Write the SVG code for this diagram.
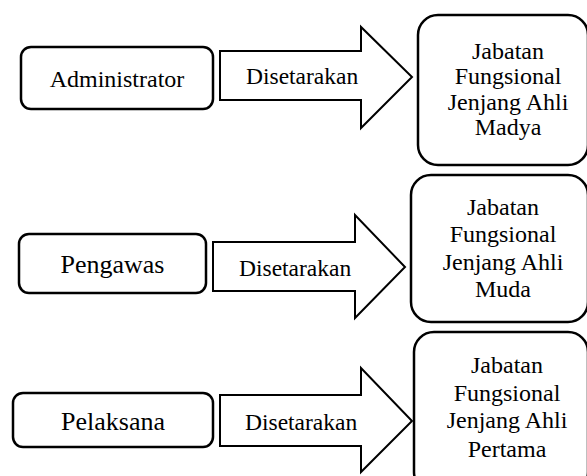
<svg xmlns="http://www.w3.org/2000/svg" width="587" height="476" viewBox="0 0 587 476" font-family="Liberation Serif, serif">
<style>
.box{fill:#fff;stroke:#000;stroke-width:2.5}
.arr{fill:#fff;stroke:#000;stroke-width:2;stroke-linejoin:miter}
</style>
<rect width="587" height="476" fill="#fff"/>
<g id="connectors">
  <g id="arrow1">
    <polygon class="arr" points="220,51 361,51 361,27 412,77 361,128 361,100 220,100"/>
    <text x="246" y="84" style="font-family:'Liberation Serif',serif;font-size:23.5px">Disetarakan</text>
  </g>
  <g id="arrow2">
    <polygon class="arr" points="213,242 355,242 355,215 405,267 355,318 355,291 213,291"/>
    <text x="239" y="276" style="font-family:'Liberation Serif',serif;font-size:23.5px">Disetarakan</text>
  </g>
  <g id="arrow3">
    <polygon class="arr" points="220,395 361,395 361,368 412,421 361,472 361,446 220,446"/>
    <text x="245" y="430" style="font-family:'Liberation Serif',serif;font-size:23.5px">Disetarakan</text>
  </g>
</g>
<g id="administrator">
  <rect class="box" x="21" y="47" width="192" height="62" rx="10"/>
  <text text-anchor="middle" x="117" y="87" style="font-family:'Liberation Serif',serif;font-size:24px">Administrator</text>
</g>
<g id="pengawas">
  <rect class="box" x="19" y="234" width="187" height="59" rx="10"/>
  <text text-anchor="middle" x="112.5" y="273" style="font-family:'Liberation Serif',serif;font-size:26px">Pengawas</text>
</g>
<g id="pelaksana">
  <rect class="box" x="13" y="393" width="200" height="54" rx="10"/>
  <text text-anchor="middle" x="113" y="430" style="font-family:'Liberation Serif',serif;font-size:26px">Pelaksana</text>
</g>
<g id="madya" text-anchor="middle">
  <rect class="box" x="418" y="15" width="170" height="150" rx="20"/>
  <text x="508" y="59" style="font-family:'Liberation Serif',serif;font-size:24px">Jabatan</text>
  <text x="508" y="84" style="font-family:'Liberation Serif',serif;font-size:24px">Fungsional</text>
  <text x="508" y="110" style="font-family:'Liberation Serif',serif;font-size:24px">Jenjang Ahli</text>
  <text x="508" y="135" style="font-family:'Liberation Serif',serif;font-size:24px">Madya</text>
</g>
<g id="muda" text-anchor="middle">
  <rect class="box" x="411" y="175" width="177" height="147" rx="20"/>
  <text x="503" y="215" style="font-family:'Liberation Serif',serif;font-size:24px">Jabatan</text>
  <text x="503" y="242" style="font-family:'Liberation Serif',serif;font-size:24px">Fungsional</text>
  <text x="503" y="270" style="font-family:'Liberation Serif',serif;font-size:24px">Jenjang Ahli</text>
  <text x="503" y="297" style="font-family:'Liberation Serif',serif;font-size:24px">Muda</text>
</g>
<g id="pertama" text-anchor="middle">
  <rect class="box" x="414" y="332" width="174" height="160" rx="20"/>
  <text x="507" y="373" style="font-family:'Liberation Serif',serif;font-size:24px">Jabatan</text>
  <text x="507" y="401" style="font-family:'Liberation Serif',serif;font-size:24px">Fungsional</text>
  <text x="507" y="428" style="font-family:'Liberation Serif',serif;font-size:24px">Jenjang Ahli</text>
  <text x="507" y="457" style="font-family:'Liberation Serif',serif;font-size:24px">Pertama</text>
</g>
</svg>
